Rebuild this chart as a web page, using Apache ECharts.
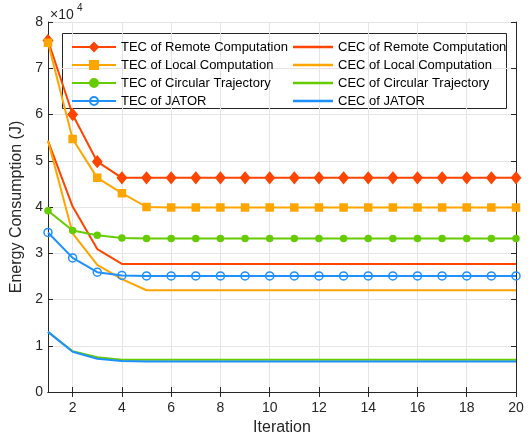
<!DOCTYPE html>
<html>
<head>
<meta charset="utf-8">
<script src="https://cdn.jsdelivr.net/npm/echarts@6/dist/echarts.min.js"></script>
<style>html,body{margin:0;padding:0;background:#fff}#c{width:532px;height:441px}</style>
</head>
<body>
<div id="c"></div>
<script>
var iterations = [1,2,3,4,5,6,7,8,9,10,11,12,13,14,15,16,17,18,19,20];
var yTicks = [0,1,2,3,4,5,6,7,8];
// values in units of 1e4 J
var tecRemote   = [7.60,6.00,4.98,4.63,4.63,4.63,4.63,4.63,4.63,4.63,4.63,4.63,4.63,4.63,4.63,4.63,4.63,4.63,4.63,4.63];
var cecRemote   = [5.43,4.01,3.09,2.77,2.77,2.77,2.77,2.77,2.77,2.77,2.77,2.77,2.77,2.77,2.77,2.77,2.77,2.77,2.77,2.77];
var tecLocal    = [7.55,5.47,4.63,4.30,4.00,3.99,3.99,3.99,3.99,3.99,3.99,3.99,3.99,3.99,3.99,3.99,3.99,3.99,3.99,3.99];
var cecLocal    = [5.43,3.43,2.75,2.44,2.20,2.20,2.20,2.20,2.20,2.20,2.20,2.20,2.20,2.20,2.20,2.20,2.20,2.20,2.20,2.20];
var tecCircular = [3.92,3.49,3.39,3.33,3.32,3.32,3.32,3.32,3.32,3.32,3.32,3.32,3.32,3.32,3.32,3.32,3.32,3.32,3.32,3.32];
var cecCircular = [1.30,0.88,0.75,0.70,0.70,0.70,0.70,0.70,0.70,0.70,0.70,0.70,0.70,0.70,0.70,0.70,0.70,0.70,0.70,0.70];
var tecJator    = [3.45,2.90,2.59,2.52,2.51,2.51,2.51,2.51,2.51,2.51,2.51,2.51,2.51,2.51,2.51,2.51,2.51,2.51,2.51,2.51];
var cecJator    = [1.30,0.87,0.72,0.67,0.66,0.66,0.66,0.66,0.66,0.66,0.66,0.66,0.66,0.66,0.66,0.66,0.66,0.66,0.66,0.66];

var tecNames = ['TEC of Remote Computation','TEC of Local Computation','TEC of Circular Trajectory','TEC of JATOR'];
var cecNames = ['CEC of Remote Computation','CEC of Local Computation','CEC of Circular Trajectory','CEC of JATOR'];

var cRemote = '#FF4500', cLocal = '#FFA500', cCirc = '#66CC00', cJator = '#1E90FF';
var FONT = 'Liberation Sans, Arial, sans-serif';
var odd = function(i){ return i % 2 === 1; };

function tec(name, data, color, symbol, size, fill){
  return {name:name, type:'line', data:data, symbol:symbol, symbolSize:size, showSymbol:true,
    lineStyle:{color:color, width:2}, itemStyle:{color:fill||color, borderColor:color, borderWidth:1.5},
    emphasis:{disabled:true}, animation:false, z: 3};
}
function cec(name, data, color){
  return {name:name, type:'line', data:data, symbol:'none', showSymbol:false,
    lineStyle:{color:color, width:2}, itemStyle:{color:color},
    emphasis:{disabled:true}, animation:false, z: 2};
}

var axisLineStyle = {color:'#262626', width:1};
var chart = echarts.init(document.getElementById('c'), null, {renderer:'canvas'});
chart.setOption({
  animation:false,
  backgroundColor:'#fff',
  grid:{left:48, right:16, top:22, bottom:49, containLabel:false},
  xAxis:[{
    type:'category', data:iterations, boundaryGap:false, position:'bottom',
    name:'Iteration', nameLocation:'middle', nameGap:28,
    nameTextStyle:{fontFamily:FONT, fontSize:16, color:'#262626'},
    axisLine:{show:true, lineStyle:axisLineStyle},
    axisTick:{show:true, inside:true, length:5, interval:odd, lineStyle:axisLineStyle},
    axisLabel:{interval:odd, fontFamily:FONT, fontSize:14, color:'#262626', margin:9},
    splitLine:{show:true, interval:odd, lineStyle:{color:'#e5e5e5', width:1}}
  },{
    type:'category', data:iterations, boundaryGap:false, position:'top',
    axisLine:{show:true, lineStyle:axisLineStyle},
    axisTick:{show:true, inside:true, length:5, interval:odd, lineStyle:axisLineStyle},
    axisLabel:{show:false}, splitLine:{show:false}
  }],
  yAxis:[{
    type:'value', min:0, max:8, interval:1, position:'left',
    name:'Energy Consumption (J)', nameLocation:'middle', nameGap:18,
    nameTextStyle:{fontFamily:FONT, fontSize:16, color:'#262626'},
    axisLine:{show:true, lineStyle:axisLineStyle},
    axisTick:{show:true, inside:true, length:5, lineStyle:axisLineStyle},
    axisLabel:{fontFamily:FONT, fontSize:14, color:'#262626', margin:5,
      formatter:function(v){ return yTicks.indexOf(v) >= 0 ? String(v) : ''; }},
    splitLine:{show:true, lineStyle:{color:'#e5e5e5', width:1}}
  },{
    type:'value', min:0, max:8, interval:1, position:'right',
    axisLine:{show:true, lineStyle:axisLineStyle},
    axisTick:{show:true, inside:true, length:5, lineStyle:axisLineStyle},
    axisLabel:{show:false}, splitLine:{show:false}
  }],
  legend:[{
    orient:'vertical', left:66, top:35, itemGap:4, itemWidth:44, itemHeight:10,
    textStyle:{fontFamily:FONT, fontSize:13, color:'#000', lineHeight:14},
    data:tecNames, selectedMode:false
  },{
    orient:'vertical', left:288, top:35, itemGap:4, itemWidth:40, itemHeight:2.5,
    textStyle:{fontFamily:FONT, fontSize:13, color:'#000', lineHeight:14},
    data:cecNames.map(function(n){ return {name:n, icon:'rect'}; }), selectedMode:false
  }],
  graphic:[
    {type:'rect', left:62, top:33, shape:{width:444, height:75}, style:{fill:'#fff', stroke:'#262626', lineWidth:1}, z:0, zlevel:0},
    {type:'text', left:50, top:8, style:{text:'×10', fontFamily:FONT, fontSize:14, fill:'#262626'}},
    {type:'text', left:77, top:3, style:{text:'4', fontFamily:FONT, fontSize:10, fill:'#262626'}}
  ],
  series:[
    tec(tecNames[0], tecRemote, cRemote, 'diamond', [9,11]),
    tec(tecNames[1], tecLocal, cLocal, 'rect', 7),
    tec(tecNames[2], tecCircular, cCirc, 'circle', 6),
    tec(tecNames[3], tecJator, cJator, 'circle', 8, 'rgba(255,255,255,0)'),
    cec(cecNames[0], cecRemote, cRemote),
    cec(cecNames[1], cecLocal, cLocal),
    cec(cecNames[2], cecCircular, cCirc),
    cec(cecNames[3], cecJator, cJator)
  ]
});
</script>
</body>
</html>
